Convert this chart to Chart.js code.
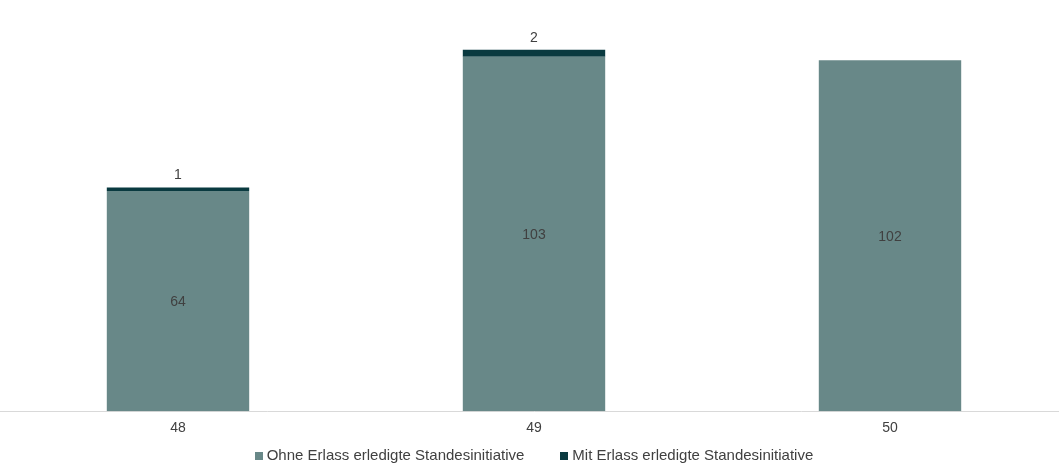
<!DOCTYPE html>
<html>
<head>
<meta charset="utf-8">
<script src="https://cdn.jsdelivr.net/npm/chart.js@4.4.0/dist/chart.umd.min.js"></script>
<style>
  html, body { margin: 0; padding: 0; background: #fff; overflow: hidden; }
  #wrap { width: 1068px; height: 470px; position: relative; }
</style>
</head>
<body>
<div id="wrap"><canvas id="chart"></canvas></div>
<script>
// Sessions (Legislaturperioden)
const categories = ["48", "49", "50"];
const ohneErlass = [64, 103, 102];
const mitErlass = [1, 2, 0];
const seriesNames = ["Ohne Erlass erledigte Standesinitiative", "Mit Erlass erledigte Standesinitiative"];

const lightColor = "#688888";
const darkColor = "#0a3a40";
const textColor = "#404040";
const fontFamily = "'Liberation Sans', Arial, sans-serif";

// draws values: inside the light bars, above the dark bars
const valueLabels = {
    id: "valueLabels",
    afterDatasetsDraw(chart) {
        const ctx = chart.ctx;
        ctx.save();
        ctx.font = "14px " + fontFamily;
        ctx.fillStyle = textColor;
        ctx.textAlign = "center";
        ctx.textBaseline = "middle";
        const light = chart.getDatasetMeta(0);
        const dark = chart.getDatasetMeta(1);
        light.data.forEach((bar, i) => {
            ctx.fillText(String(ohneErlass[i]), bar.x, (bar.y + bar.base) / 2 + 1);
        });
        dark.data.forEach((bar, i) => {
            if (!mitErlass[i]) return;
            ctx.fillText(String(mitErlass[i]), bar.x, bar.y - 12);
        });
        ctx.restore();
    }
};

// legend row at the bottom; the built-in one ties item gap to its height
const bottomLegend = {
    id: "bottomLegend",
    afterDraw(chart) {
        const ctx = chart.ctx;
        const box = 8, textGap = 4, itemGap = 36, y = 456;
        ctx.save();
        ctx.font = "15px " + fontFamily;
        ctx.textBaseline = "middle";
        ctx.textAlign = "left";
        const items = chart.data.datasets.map(ds => ({
            text: ds.label,
            color: ds.backgroundColor,
            w: box + textGap + ctx.measureText(ds.label).width
        }));
        const total = items.reduce((s, it) => s + it.w, 0) + itemGap * (items.length - 1);
        let x = chart.width / 2 - total / 2;
        items.forEach(it => {
            ctx.fillStyle = it.color;
            ctx.fillRect(Math.round(x), y - box / 2, box, box);
            ctx.fillStyle = textColor;
            ctx.fillText(it.text, x + box + textGap, y);
            x += it.w + itemGap;
        });
        ctx.restore();
    }
};

Chart.defaults.font.family = fontFamily;
Chart.defaults.color = textColor;

new Chart(document.getElementById("chart"), {
    type: "bar",
    data: {
        labels: categories,
        datasets: [
            { label: seriesNames[0], data: ohneErlass, backgroundColor: lightColor },
            { label: seriesNames[1], data: mitErlass, backgroundColor: darkColor }
        ]
    },
    options: {
        responsive: true,
        maintainAspectRatio: false,
        animation: false,
        layout: { padding: { top: 12, left: 0, right: 0, bottom: 32 } },
        datasets: { bar: { barPercentage: 0.8, categoryPercentage: 0.5 } },
        plugins: {
            legend: { display: false },
            tooltip: { enabled: false }
        },
        scales: {
            x: {
                stacked: true,
                grid: { display: false },
                border: { display: true, color: "#d9d9d9" },
                ticks: { font: { size: 14 }, color: textColor, padding: 1 }
            },
            y: {
                stacked: true,
                display: false,
                min: 0,
                max: 116
            }
        }
    },
    plugins: [valueLabels, bottomLegend]
});
</script>
</body>
</html>
